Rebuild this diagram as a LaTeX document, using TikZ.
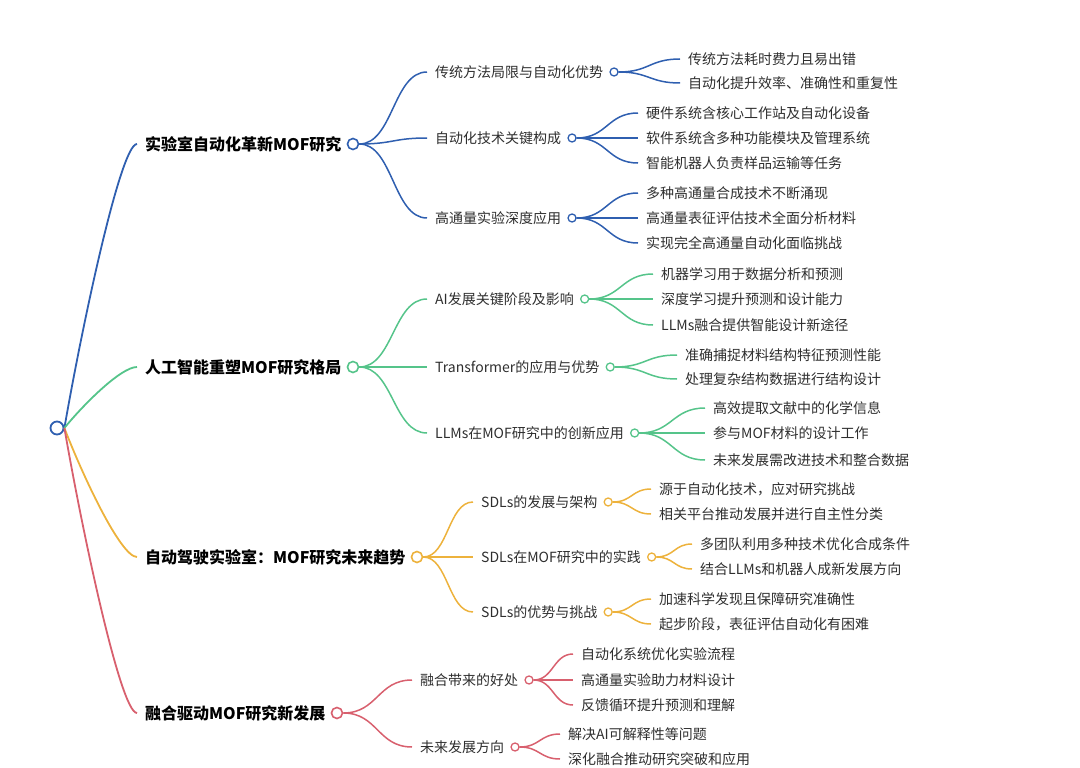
\documentclass[tikz,border=0pt]{standalone}
\usepackage{fontspec}
\setmainfont{Noto Sans CJK SC}
\usetikzlibrary{positioning,calc}

\definecolor{bluel}{HTML}{2F5FB0}
\definecolor{greenl}{HTML}{55C48A}
\definecolor{orangel}{HTML}{EDB23C}
\definecolor{redl}{HTML}{D8606E}

% S-shaped link, horizontal at both ends
\newcommand{\branch}[3]{%
  \draw[link,#1] let \p1=(#2), \p2=(#3), \n1={\x2-\x1} in
    (\p1) .. controls (\x1+0.5*\n1,\y1) and (\x2-0.5*\n1,\y2) .. (\p2);}
% link from the root, steeper at the start
\newcommand{\trunk}[3]{%
  \draw[link,line width=1.8pt,#1] let \p1=(#2), \p2=(#3), \n1={\x2-\x1}, \n2={\y2-\y1} in
    (\p1) .. controls (\x1+0.23*\n1,\y1+0.34*\n2) and (\x2-0.23*\n1,\y2) .. (\p2);}

\begin{document}
\begin{tikzpicture}[x=1pt,y=-1pt,
  every node/.style={text=black!82},
  top/.style={anchor=west,inner xsep=8pt,text=black,font=\fontsize{16}{18}\selectfont\bfseries},
  sub/.style={anchor=west,inner xsep=8pt,font=\fontsize{14}{16}\selectfont},
  dot/.style={circle,draw=#1,fill=white,inner sep=0pt,minimum size=8pt,line width=1.3pt},
  bigdot/.style={dot=#1,minimum size=11pt,line width=1.6pt},
  link/.style={line width=1.5pt}]
  \useasboundingbox (0,0) rectangle (1080,768);

  \node[circle,draw=bluel,fill=white,line width=1.8pt,minimum size=13pt,inner sep=0pt] (root) at (57,428) {};

  % level 1
  \node[top] (lab) at (137,144) {实验室自动化革新MOF研究};
  \node[bigdot=bluel,right=-3pt of lab] (labc) {};
  \node[top] (ai) at (137,367) {人工智能重塑MOF研究格局};
  \node[bigdot=greenl,right=-3pt of ai] (aic) {};
  \node[top] (sdl) at (137,557) {自动驾驶实验室：MOF研究未来趋势};
  \node[bigdot=orangel,right=-3pt of sdl] (sdlc) {};
  \node[top] (fus) at (137,713) {融合驱动MOF研究新发展};
  \node[bigdot=redl,right=-3pt of fus] (fusc) {};

  % level 2
  \node[sub] (lab1) at (427,72) {传统方法局限与自动化优势};
  \node[dot=bluel,right=-2pt of lab1] (lab1c) {};
  \node[sub] (lab2) at (427,138) {自动化技术关键构成};
  \node[dot=bluel,right=-2pt of lab2] (lab2c) {};
  \node[sub] (lab3) at (427,218) {高通量实验深度应用};
  \node[dot=bluel,right=-2pt of lab3] (lab3c) {};

  \node[sub] (ai1) at (427,299) {AI发展关键阶段及影响};
  \node[dot=greenl,right=-2pt of ai1] (ai1c) {};
  \node[sub] (ai2) at (427,367) {Transformer的应用与优势};
  \node[dot=greenl,right=-2pt of ai2] (ai2c) {};
  \node[sub] (ai3) at (427,433) {LLMs在MOF研究中的创新应用};
  \node[dot=greenl,right=-2pt of ai3] (ai3c) {};

  \node[sub] (sdl1) at (473,502) {SDLs的发展与架构};
  \node[dot=orangel,right=-2pt of sdl1] (sdl1c) {};
  \node[sub] (sdl2) at (473,557) {SDLs在MOF研究中的实践};
  \node[dot=orangel,right=-2pt of sdl2] (sdl2c) {};
  \node[sub] (sdl3) at (473,612) {SDLs的优势与挑战};
  \node[dot=orangel,right=-2pt of sdl3] (sdl3c) {};

  \node[sub] (fus1) at (412,680) {融合带来的好处};
  \node[dot=redl,right=-2pt of fus1] (fus1c) {};
  \node[sub] (fus2) at (412,747) {未来发展方向};
  \node[dot=redl,right=-2pt of fus2] (fus2c) {};

  % level 3
  \node[sub] (lab1a) at (680,59) {传统方法耗时费力且易出错};
  \node[sub] (lab1b) at (680,83) {自动化提升效率、准确性和重复性};
  \node[sub] (lab2a) at (638,113) {硬件系统含核心工作站及自动化设备};
  \node[sub] (lab2b) at (638,138) {软件系统含多种功能模块及管理系统};
  \node[sub] (lab2c') at (638,163) {智能机器人负责样品运输等任务};
  \node[sub] (lab3a) at (638,193) {多种高通量合成技术不断涌现};
  \node[sub] (lab3b) at (638,218) {高通量表征评估技术全面分析材料};
  \node[sub] (lab3c') at (638,243) {实现完全高通量自动化面临挑战};

  \node[sub] (ai1a) at (653,274) {机器学习用于数据分析和预测};
  \node[sub] (ai1b) at (653,299) {深度学习提升预测和设计能力};
  \node[sub] (ai1c') at (653,325) {LLMs融合提供智能设计新途径};
  \node[sub] (ai2a) at (677,355) {准确捕捉材料结构特征预测性能};
  \node[sub] (ai2b) at (677,379) {处理复杂结构数据进行结构设计};
  \node[sub] (ai3a) at (705,408) {高效提取文献中的化学信息};
  \node[sub] (ai3b) at (705,433) {参与MOF材料的设计工作};
  \node[sub] (ai3c') at (705,460) {未来发展需改进技术和整合数据};

  \node[sub] (sdl1a) at (651,489) {源于自动化技术，应对研究挑战};
  \node[sub] (sdl1b) at (651,514) {相关平台推动发展并进行自主性分类};
  \node[sub] (sdl2a) at (692,544) {多团队利用多种技术优化合成条件};
  \node[sub] (sdl2b) at (692,569) {结合LLMs和机器人成新发展方向};
  \node[sub] (sdl3a) at (651,599) {加速科学发现且保障研究准确性};
  \node[sub] (sdl3b) at (651,624) {起步阶段，表征评估自动化有困难};

  \node[sub] (fus1a) at (573,654) {自动化系统优化实验流程};
  \node[sub] (fus1b) at (573,680) {高通量实验助力材料设计};
  \node[sub] (fus1c') at (573,705) {反馈循环提升预测和理解};
  \node[sub] (fus2a) at (560,734) {解决AI可解释性等问题};
  \node[sub] (fus2b) at (560,759) {深化融合推动研究突破和应用};

  % links from the root
  \trunk{bluel}{root.east}{lab.west}
  \trunk{greenl}{root.east}{ai.west}
  \trunk{orangel}{root.east}{sdl.west}
  \trunk{redl}{root.east}{fus.west}

  % level 1 to level 2
  \branch{bluel}{labc.east}{lab1.west}
  \branch{bluel}{labc.east}{lab2.west}
  \branch{bluel}{labc.east}{lab3.west}
  \branch{greenl}{aic.east}{ai1.west}
  \branch{greenl}{aic.east}{ai2.west}
  \branch{greenl}{aic.east}{ai3.west}
  \branch{orangel}{sdlc.east}{sdl1.west}
  \branch{orangel}{sdlc.east}{sdl2.west}
  \branch{orangel}{sdlc.east}{sdl3.west}
  \branch{redl}{fusc.east}{fus1.west}
  \branch{redl}{fusc.east}{fus2.west}

  % level 2 to level 3
  \branch{bluel}{lab1c.east}{lab1a.west}
  \branch{bluel}{lab1c.east}{lab1b.west}
  \branch{bluel}{lab2c.east}{lab2a.west}
  \branch{bluel}{lab2c.east}{lab2b.west}
  \branch{bluel}{lab2c.east}{lab2c'.west}
  \branch{bluel}{lab3c.east}{lab3a.west}
  \branch{bluel}{lab3c.east}{lab3b.west}
  \branch{bluel}{lab3c.east}{lab3c'.west}
  \branch{greenl}{ai1c.east}{ai1a.west}
  \branch{greenl}{ai1c.east}{ai1b.west}
  \branch{greenl}{ai1c.east}{ai1c'.west}
  \branch{greenl}{ai2c.east}{ai2a.west}
  \branch{greenl}{ai2c.east}{ai2b.west}
  \branch{greenl}{ai3c.east}{ai3a.west}
  \branch{greenl}{ai3c.east}{ai3b.west}
  \branch{greenl}{ai3c.east}{ai3c'.west}
  \branch{orangel}{sdl1c.east}{sdl1a.west}
  \branch{orangel}{sdl1c.east}{sdl1b.west}
  \branch{orangel}{sdl2c.east}{sdl2a.west}
  \branch{orangel}{sdl2c.east}{sdl2b.west}
  \branch{orangel}{sdl3c.east}{sdl3a.west}
  \branch{orangel}{sdl3c.east}{sdl3b.west}
  \branch{redl}{fus1c.east}{fus1a.west}
  \branch{redl}{fus1c.east}{fus1b.west}
  \branch{redl}{fus1c.east}{fus1c'.west}
  \branch{redl}{fus2c.east}{fus2a.west}
  \branch{redl}{fus2c.east}{fus2b.west}
\end{tikzpicture}
\end{document}
